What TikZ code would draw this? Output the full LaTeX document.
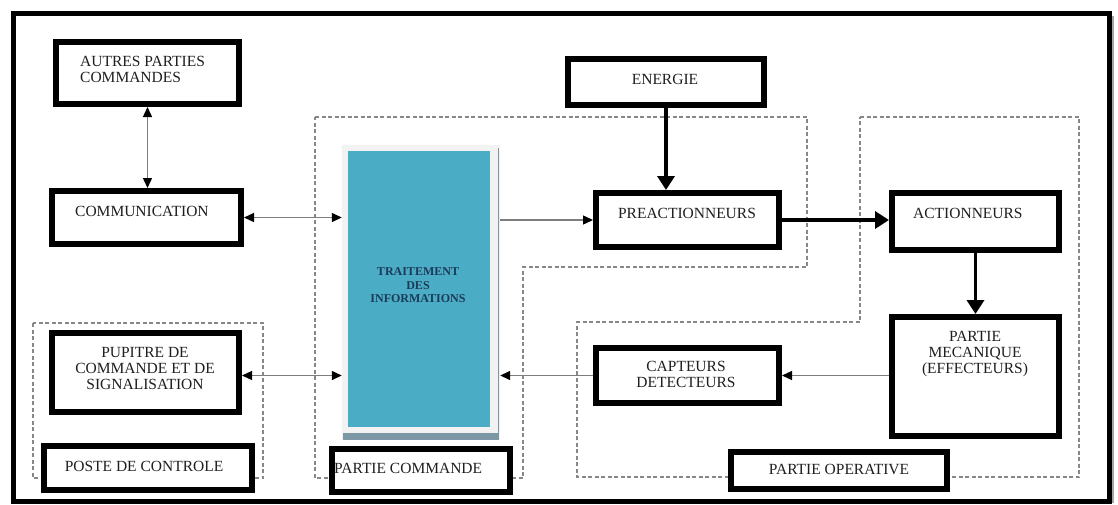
\documentclass[tikz,border=0pt]{standalone}
\usepackage{fontspec}
\setmainfont{Liberation Serif}
\usetikzlibrary{arrows.meta}
\definecolor{blueT}{RGB}{75,172,198}
\definecolor{navyT}{RGB}{28,58,88}
\definecolor{lineG}{RGB}{125,125,125}
\definecolor{dashG}{RGB}{135,135,135}
\definecolor{shadeT}{RGB}{125,152,165}
\tikzset{
  SmallHead/.tip={Triangle[length=10pt,width=9pt,color=black,fill=black]},
  BigHead/.tip={Triangle[length=14pt,width=17pt,color=black,fill=black]},
  blk/.style={draw=black, line width=6pt, fill=white, inner sep=0pt},
  lbl/.style={font=\fontsize{15.5}{16}\selectfont, text=black!88, inner sep=0pt, align=center},
  lbll/.style={lbl, align=left},
  thinarr/.style={draw=lineG, line width=1.4pt},
  thickarr/.style={draw=black, line width=3.6pt, -BigHead},
  dsh/.style={draw=dashG, line width=1.8pt, dash pattern=on 4pt off 2.5pt}
}
\begin{document}
\begin{tikzpicture}[x=1pt, y=-1pt]
\useasboundingbox (0,0) rectangle (1118,504);
\fill[white] (0,0) rectangle (1118,504);
% outer frame with slight shadow
\draw[line width=2pt, black!35] (1113,16) -- (1113,503);
\draw[line width=5pt] (13,13.5) rectangle (1109,501);

% dashed group outlines
\draw[dsh] (33,323) rectangle (263,478);
\draw[dsh] (315,117) -- (807,117) -- (807,267) -- (523,267) -- (523,478) -- (315,478) -- cycle;
\draw[dsh] (860,117) -- (1079,117) -- (1079,477) -- (577,477) -- (577,322) -- (860,322) -- cycle;

% processing block
\node[fill=black!5, minimum width=158pt, minimum height=295pt, inner sep=0pt] (trait) at (421,292.5) {};
\draw[line width=1.5pt, shadeT] (498.5,148) -- (498.5,440);
\fill[shadeT] (343,433) rectangle (499,440);
\node[fill=blueT, minimum width=142pt, minimum height=276pt, inner sep=0pt] (traitblue) at (419,289) {};
\node[font=\bfseries\fontsize{12}{13.5}\selectfont, text=navyT, align=center, inner sep=0pt] (traittxt) at (418,285.5) {TRAITEMENT\\DES\\INFORMATIONS};

% boxes
\node[blk, minimum width=183pt, minimum height=62pt] (autres) at (147.5,73) {};
\node[blk, minimum width=189pt, minimum height=53pt] (comm) at (146.5,217.5) {};
\node[blk, minimum width=187pt, minimum height=79pt] (pup) at (145.5,372.5) {};
\node[blk, minimum width=208pt, minimum height=44pt] (poste) at (148,468) {};
\node[blk, minimum width=196pt, minimum height=46pt] (energie) at (666,82) {};
\node[blk, minimum width=183pt, minimum height=54pt] (preact) at (687.5,220) {};
\node[blk, minimum width=167pt, minimum height=57pt] (act) at (975.5,221.5) {};
\node[blk, minimum width=167pt, minimum height=119pt] (pm) at (975.5,376.5) {};
\node[blk, minimum width=183pt, minimum height=55pt] (capt) at (687.5,375.5) {};
\node[blk, minimum width=178pt, minimum height=43pt] (pcmd) at (421,470.5) {};
\node[blk, minimum width=216pt, minimum height=37pt] (pop) at (839,470.5) {};

% labels
\node[lbll, anchor=west] (tautres) at (80,69.5) {AUTRES PARTIES\\COMMANDES};
\node[lbll, anchor=west] (tcomm) at (75,211) {COMMUNICATION};
\node[lbl] (tpup) at (145,368) {PUPITRE DE\\COMMANDE ET DE\\SIGNALISATION};
\node[lbl] (tposte) at (144,466) {POSTE DE CONTROLE};
\node[lbl] (tenergie) at (665,79) {ENERGIE};
\node[lbl] (tpreact) at (687,213) {PREACTIONNEURS};
\node[lbll, anchor=west] (tact) at (913,213) {ACTIONNEURS};
\node[lbl] (tpm) at (975,354) {PARTIE\\MECANIQUE\\(EFFECTEURS)};
\node[lbl] (tcapt) at (686,374) {CAPTEURS\\DETECTEURS};
\node[lbll, anchor=west] (tpcmd) at (334,468) {PARTIE COMMANDE};
\node[lbl] (tpop) at (839,469) {PARTIE OPERATIVE};

% connectors
\draw[thinarr, SmallHead-SmallHead] (autres.south) -- (autres.south |- comm.north);
\draw[thinarr, SmallHead-SmallHead] (comm.east) -- (comm.east -| trait.west);
\draw[thinarr, -SmallHead] (trait.east |- preact.west) -- (preact.west);
\draw[thinarr, SmallHead-SmallHead] (pup.east |- capt.west) -- (trait.west |- capt.west);
\draw[thinarr, -SmallHead] (capt.west) -- (capt.west -| trait.east);
\draw[thinarr, -SmallHead] (pm.west |- capt.east) -- (capt.east);
\draw[thickarr] (energie.south) -- (energie.south |- preact.north);
\draw[thickarr] (preact.east) -- (preact.east -| act.west);
\draw[thickarr] (act.south) -- (pm.north);
\end{tikzpicture}
\end{document}
